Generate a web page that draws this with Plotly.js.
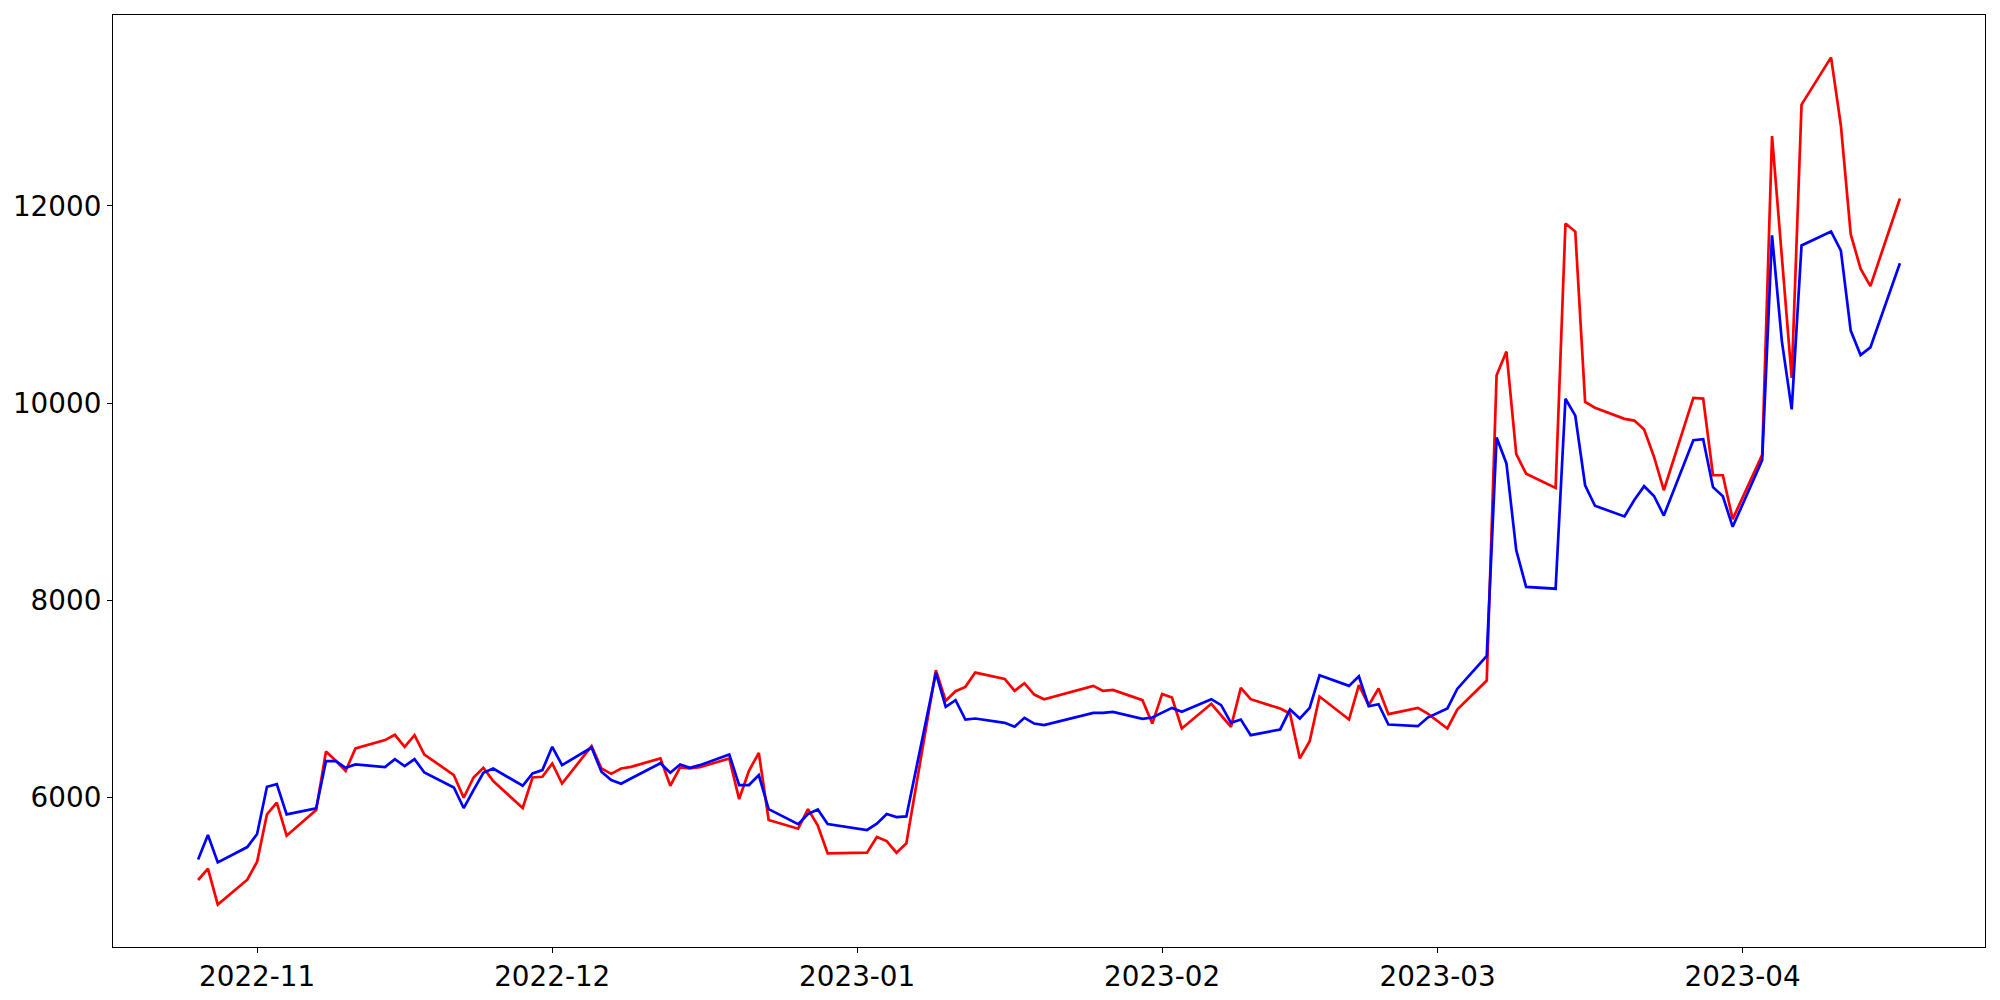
<!DOCTYPE html>
<html>
<head>
<meta charset="utf-8">
<script src="https://cdn.plot.ly/plotly-3.0.1.min.js"></script>
<style>
  html, body { margin: 0; padding: 0; background: #ffffff; }
  #chart { width: 2000px; height: 1000px; }
</style>
</head>
<body>
<div id="chart"></div>
<script>
// Trading dates
const dates = [
  "2022-10-26","2022-10-27","2022-10-28","2022-10-31",
  "2022-11-01","2022-11-02","2022-11-03","2022-11-04",
  "2022-11-07","2022-11-08","2022-11-09","2022-11-10","2022-11-11",
  "2022-11-14","2022-11-15","2022-11-16","2022-11-17","2022-11-18",
  "2022-11-21","2022-11-22","2022-11-23","2022-11-24","2022-11-25",
  "2022-11-28","2022-11-29","2022-11-30",
  "2022-12-01","2022-12-02",
  "2022-12-05","2022-12-06","2022-12-07","2022-12-08","2022-12-09",
  "2022-12-12","2022-12-13","2022-12-14","2022-12-15","2022-12-16",
  "2022-12-19","2022-12-20","2022-12-21","2022-12-22","2022-12-23",
  "2022-12-26","2022-12-27","2022-12-28","2022-12-29",
  "2023-01-02","2023-01-03","2023-01-04","2023-01-05","2023-01-06",
  "2023-01-09","2023-01-10","2023-01-11","2023-01-12","2023-01-13",
  "2023-01-16","2023-01-17","2023-01-18","2023-01-19","2023-01-20",
  "2023-01-25","2023-01-26","2023-01-27",
  "2023-01-30","2023-01-31",
  "2023-02-01","2023-02-02","2023-02-03",
  "2023-02-06","2023-02-07","2023-02-08","2023-02-09","2023-02-10",
  "2023-02-13","2023-02-14","2023-02-15","2023-02-16","2023-02-17",
  "2023-02-20","2023-02-21","2023-02-22","2023-02-23","2023-02-24",
  "2023-02-27","2023-02-28",
  "2023-03-02","2023-03-03",
  "2023-03-06","2023-03-07","2023-03-08","2023-03-09","2023-03-10",
  "2023-03-13","2023-03-14","2023-03-15","2023-03-16","2023-03-17",
  "2023-03-20","2023-03-21","2023-03-22","2023-03-23","2023-03-24",
  "2023-03-27","2023-03-28","2023-03-29","2023-03-30","2023-03-31",
  "2023-04-03","2023-04-04","2023-04-05","2023-04-06","2023-04-07",
  "2023-04-10","2023-04-11","2023-04-12","2023-04-13","2023-04-14",
  "2023-04-17"
];

// Red series
const redValues = [
  5162, 5277, 4912, 5165,
  5348, 5827, 5946, 5611,
  5871, 6466, 6371, 6270, 6496,
  6581, 6635, 6513, 6631, 6435,
  6226, 5996, 6202, 6300, 6165,
  5892, 6202, 6209,
  6344, 6141,
  6520, 6293, 6239, 6293, 6310,
  6395, 6118, 6304, 6293, 6306,
  6395, 5983, 6270, 6452, 5770,
  5682, 5881, 5713, 5432,
  5439, 5598, 5557, 5439, 5534,
  7290, 6980, 7077, 7121, 7266,
  7202, 7080, 7158, 7043, 6996,
  7131, 7080, 7090,
  6986, 6749,
  7050, 7013, 6699,
  6949, 6834, 6716, 7111, 6996,
  6901, 6851, 6395, 6570, 7023,
  6790, 7138, 6935, 7104, 6844,
  6908, 6849,
  6699, 6890,
  7185, 10283, 10523, 9483, 9284,
  9139, 11821, 11740, 10012, 9953,
  9840, 9822, 9732, 9456, 9116,
  10053, 10046, 9268, 9268, 8823,
  9474, 12708, 11482, 10256, 13028,
  13507, 12814, 11713, 11364, 11187,
  12075
];

// Blue series
const blueValues = [
  5371, 5618, 5341, 5496,
  5628, 6108, 6135, 5827,
  5888, 6368, 6368, 6300, 6334,
  6307, 6388, 6317, 6388, 6253,
  6101, 5892, 6074, 6250, 6293,
  6118, 6243, 6277,
  6513, 6327,
  6506, 6260, 6175, 6138, 6192,
  6347, 6250, 6334, 6300, 6327,
  6435, 6125, 6125, 6226, 5881,
  5729, 5831, 5878, 5729,
  5669, 5733, 5831, 5800, 5807,
  7262, 6918, 6986, 6790, 6800,
  6756, 6716, 6807, 6749, 6733,
  6857, 6857, 6868,
  6797, 6810,
  6857, 6908, 6868,
  6996, 6935, 6756, 6790, 6631,
  6689, 6891, 6800, 6908, 7239,
  7131, 7229, 6925, 6945, 6739,
  6722, 6810,
  6903, 7100,
  7434, 9650, 9388, 8506, 8135,
  8117, 10044, 9872, 9166, 8958,
  8850, 9017, 9157, 9058, 8859,
  9623, 9634, 9147, 9054, 8745,
  9420, 11702, 10629, 9936, 11599,
  11741, 11546, 10735, 10487, 10565,
  11418
];

const xTickVals = ["2022-11-01","2022-12-01","2023-01-01","2023-02-01","2023-03-01","2023-04-01"];
const xTickText = ["2022-11","2022-12","2023-01","2023-02","2023-03","2023-04"];
const yTickVals = [6000, 8000, 10000, 12000];
const yTickText = ["6000", "8000", "10000", "12000"];

// matplotlib-like 5% margins
const DAY = 86400000;
const t0 = Date.parse(dates[0] + "T00:00:00Z");
const t1 = Date.parse(dates[dates.length - 1] + "T00:00:00Z");
const tSpan = t1 - t0;
function iso(ms) { return new Date(ms).toISOString().replace("T", " ").replace("Z", ""); }
const xRange = [iso(t0 - 0.05 * tSpan), iso(t1 + 0.05 * tSpan)];
const allVals = redValues.concat(blueValues);
const vMin = Math.min.apply(null, allVals), vMax = Math.max.apply(null, allVals);
const vSpan = vMax - vMin;
const yRange = [vMin - 0.05 * vSpan, vMax + 0.05 * vSpan];

const traces = [
  { x: dates, y: redValues, type: "scatter", mode: "lines", name: "red",
    line: { color: "#ff0000", width: 2.7 }, hoverinfo: "skip" },
  { x: dates, y: blueValues, type: "scatter", mode: "lines", name: "blue",
    line: { color: "#0000ff", width: 2.7 }, hoverinfo: "skip" }
];

const axisCommon = {
  showgrid: false, zeroline: false, showline: true, mirror: true,
  linecolor: "#000000", linewidth: 1.1,
  ticks: "outside", ticklen: 5, tickwidth: 1.1, tickcolor: "#000000",
  tickfont: { family: "DejaVu Sans", size: 27.8, color: "#000000" }
};

const layout = {
  width: 2000, height: 1000,
  paper_bgcolor: "#ffffff", plot_bgcolor: "#ffffff",
  showlegend: false,
  margin: { l: 113, r: 15, t: 15, b: 53, pad: 0 },
  xaxis: Object.assign({}, axisCommon, {
    type: "date", range: xRange,
    tickmode: "array", tickvals: xTickVals, ticktext: xTickText
  }),
  yaxis: Object.assign({}, axisCommon, {
    range: yRange,
    tickmode: "array", tickvals: yTickVals, ticktext: yTickText
  })
};

Plotly.newPlot("chart", traces, layout, { staticPlot: true, displayModeBar: false });
</script>
</body>
</html>
